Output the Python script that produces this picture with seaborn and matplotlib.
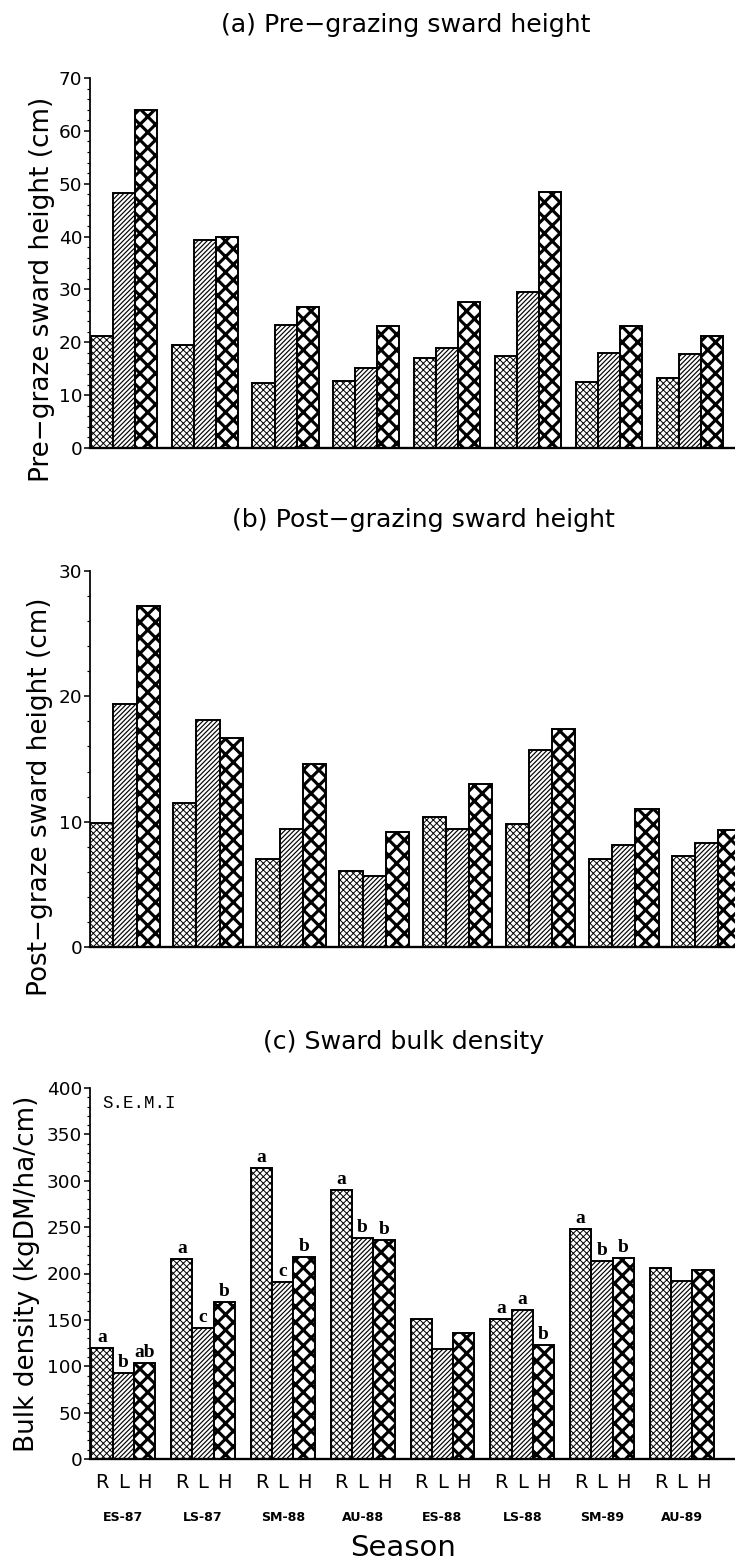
import matplotlib
matplotlib.use("Agg")
import matplotlib.pyplot as plt
from matplotlib.ticker import MultipleLocator, AutoMinorLocator
import seaborn as sns
import pandas as pd

# ---------------- data ----------------
seasons = ["ES-87", "LS-87", "SM-88", "AU-88", "ES-88", "LS-88", "SM-89", "AU-89"]
treatments = ["R", "L", "H"]

pre_R = [21.2, 19.5, 12.3, 12.7, 17.1, 17.4, 12.5, 13.2]
pre_L = [48.2, 39.3, 23.3, 15.1, 19.0, 29.5, 18.0, 17.8]
pre_H = [63.9, 40.0, 26.7, 23.1, 27.6, 48.4, 23.1, 21.2]

post_R = [9.9, 11.5, 7.0, 6.1, 10.35, 9.8, 7.0, 7.3]
post_L = [19.4, 18.1, 9.4, 5.7, 9.45, 15.7, 8.1, 8.3]
post_H = [27.2, 16.7, 14.6, 9.15, 13.0, 17.4, 11.05, 9.3]

bulk_R = [120, 216, 314, 290, 151, 151, 248, 206]
bulk_L = [93, 141, 191, 238, 119, 161, 214, 192]
bulk_H = [104, 169, 218, 236, 136, 123, 217, 204]

bulk_letters_R = ["a", "a", "a", "a", "", "a", "a", ""]
bulk_letters_L = ["b", "c", "c", "b", "", "a", "b", ""]
bulk_letters_H = ["ab", "b", "b", "b", "", "b", "b", ""]

titles = ["(a) Pre\u2212grazing sward height",
          "(b) Post\u2212grazing sward height",
          "(c) Sward bulk density"]
ylabels = ["Pre\u2212graze sward height (cm)",
           "Post\u2212graze sward height (cm)",
           "Bulk density (kgDM/ha/cm)"]


def long_df(r, l, h):
    rows = []
    for vals, t in zip([r, l, h], treatments):
        for s, v in zip(seasons, vals):
            rows.append({"season": s, "treatment": t, "value": v})
    return pd.DataFrame(rows)


sns.set_style("white")
plt.rcParams["font.family"] = ["DejaVu Sans"]
plt.rcParams["text.color"] = "black"
plt.rcParams["axes.labelcolor"] = "black"
plt.rcParams["xtick.color"] = "black"
plt.rcParams["ytick.color"] = "black"
plt.rcParams["axes.edgecolor"] = "black"

W, H = 735, 1567
DPI = 140
fig = plt.figure(figsize=(W / DPI, H / DPI), dpi=DPI)

hatches = ["xxxxxxx", "//////////", "xxx"]
hatch_lw = [0.5, 0.6, 1.6]


def px_rect(top, bottom, left=90, right=735):
    return [left / W, 1 - bottom / H, (right - left) / W, (bottom - top) / H]


panels = [
    dict(rect=px_rect(78, 448), df=long_df(pre_R, pre_L, pre_H), ylim=(0, 70), step=10,
         width=0.816, xlim=(-0.4166, 7.556), title_xy=(406, 25), ylab=(-0.054, 0.43)),
    dict(rect=px_rect(571, 947), df=long_df(post_R, post_L, post_H), ylim=(0, 30), step=10,
         width=0.84, xlim=(-0.421, 7.34), title_xy=(423, 520), ylab=(-0.057, 0.40)),
    dict(rect=px_rect(1088, 1459), df=long_df(bulk_R, bulk_L, bulk_H), ylim=(0, 400), step=50,
         width=0.80, xlim=(-0.417, 7.667), title_xy=(404, 1042), ylab=(-0.078, 0.50)),
]

axes = []
for i, p in enumerate(panels):
    ax = fig.add_axes(p["rect"])
    sns.barplot(data=p["df"], x="season", y="value", hue="treatment",
                hue_order=treatments, order=seasons, width=p["width"],
                errorbar=None, legend=False, ax=ax, saturation=1)
    for k, cont in enumerate(ax.containers):
        for bar in cont:
            bar.set_facecolor("white")
            bar.set_edgecolor("black")
            bar.set_linewidth(1.0)
            bar.set_hatch(hatches[k])
            if hasattr(bar, "set_hatch_linewidth"):
                bar.set_hatch_linewidth(hatch_lw[k])
    ax.set_ylim(*p["ylim"])
    ax.set_xlim(*p["xlim"])
    ax.yaxis.set_major_locator(MultipleLocator(p["step"]))
    ax.yaxis.set_minor_locator(AutoMinorLocator(5))
    ax.tick_params(axis="y", which="major", direction="out", length=3, width=0.8,
                   labelsize=9.5, pad=1, left=True)
    ax.tick_params(axis="y", which="minor", direction="out", length=1.5, width=0.6, left=True)
    for s in ["top", "right"]:
        ax.spines[s].set_visible(False)
    ax.spines["left"].set_linewidth(0.9)
    ax.spines["bottom"].set_linewidth(1.2)
    ax.set_xlabel("")
    ax.set_ylabel(ylabels[i], fontsize=13.5)
    ax.yaxis.set_label_coords(*p["ylab"])
    tx, ty = p["title_xy"]
    fig.text(tx / W, 1 - ty / H, titles[i], ha="center", va="center", fontsize=13)
    axes.append(ax)
    if i < 2:
        ax.set_xticks([])

# bottom panel x labels
axc = axes[2]
pos, labs = [], []
for k, cont in enumerate(axc.containers):
    for bar in cont:
        pos.append(bar.get_x() + bar.get_width() / 2)
        labs.append(treatments[k])
axc.set_xticks(pos, labs)
axc.tick_params(axis="x", length=0, labelsize=10, pad=7)

xtr = axc.get_xaxis_transform()
for j, s in enumerate(seasons):
    axc.text(j, -0.158, s, transform=xtr, ha="center", va="center",
             fontsize=6.5, fontweight="bold")

letters = [bulk_letters_R, bulk_letters_L, bulk_letters_H]
for k, cont in enumerate(axc.containers):
    for j, bar in enumerate(cont):
        t = letters[k][j]
        if t:
            axc.text(bar.get_x() + bar.get_width() / 2, bar.get_height() + 2, t,
                     ha="center", va="bottom", fontsize=10, fontweight="bold",
                     family=["Liberation Serif", "DejaVu Serif"])

axc.text(0.019, 0.957, "S.E.M.I", transform=axc.transAxes, ha="left", va="center",
         fontsize=9, family=["Liberation Mono", "DejaVu Sans Mono"])

fig.text(403 / W, 1 - 1548 / H, "Season", ha="center", va="center", fontsize=15)

fig.savefig("out.png", dpi=DPI, facecolor="white")
